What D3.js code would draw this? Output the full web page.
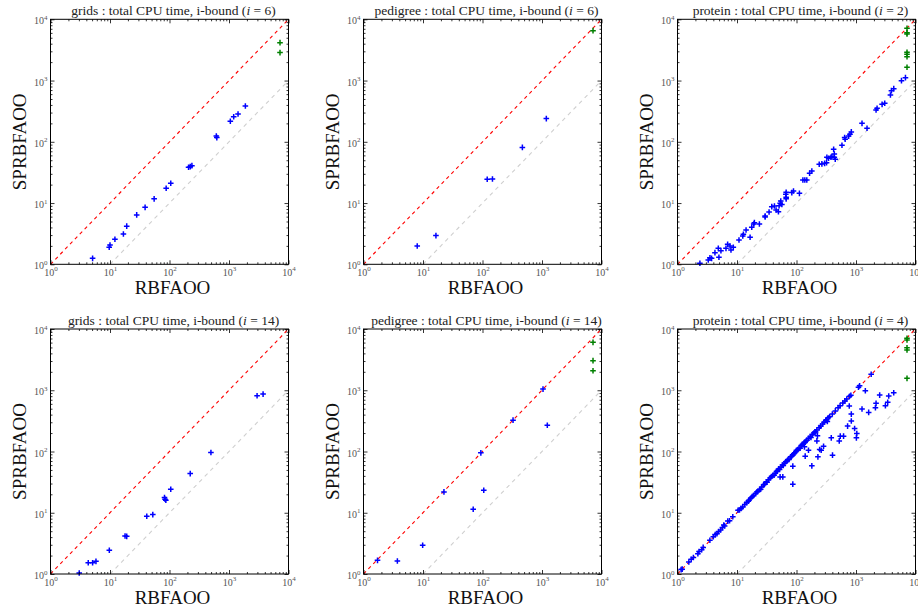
<!DOCTYPE html>
<html><head><meta charset="utf-8">
<script src="https://cdn.jsdelivr.net/npm/d3@7"></script>
<style>body{margin:0;background:#fff}svg{display:block}</style>
</head><body>
<svg id="chart" width="918" height="610"></svg>
<script>
// ---------- data ----------
const majorTicks = [1, 10, 100, 1000, 10000];
const tickExponents = ["0", "1", "2", "3", "4"];
const minorTicks = [2,3,4,5,6,7,8,9,20,30,40,50,60,70,80,90,200,300,400,500,600,700,800,900,2000,3000,4000,5000,6000,7000,8000,9000];
const xAxisLabel = "RBFAOO";
const yAxisLabel = "SPRBFAOO";
const panelDomains = ["grids", "pedigree", "protein", "grids", "pedigree", "protein"];
const panelIBounds = ["6", "6", "2", "14", "14", "4"];

const gridsI6 = [[5.1,1.25],[9.7,1.9],[10,2.07],[12.1,2.56],[16.8,3.13],[19.1,4.2],[28.1,6.4],[38.9,8.5],[55.2,11.7],[87.9,17.4],[105,21],[209,38.4],[223,39.3],[238,40.8],[612,124],[624,117],[1053,216],[1199,257],[1419,285],[1884,385]];
const gridsI6Timeout = [[7200,4160],[7200,2860]];

const pedigreeI6 = [[8.0,1.99],[16.5,2.94],[120,24.4],[147,24.7],[468,81],[1182,239]];
const pedigreeI6Timeout = [[7200,6530]];

const proteinI2 = [[2.38,1.04],[3.29,1.18],[3.51,1.28],[3.74,1.25],[4.26,1.55],[4.85,1.82],[4.97,1.30],[5.37,1.67],[6.53,1.82],[6.96,2.12],[7.62,1.99],[7.92,1.71],[8.67,1.89],[10.8,2.5],[12.5,2.9],[12.8,3.09],[14.2,3.64],[16.6,2.76],[17.7,4.02],[19.1,4.55],[19.6,4.79],[23.8,4.55],[29.7,5.93],[29.7,6.16],[34.6,7.15],[38.4,8.74],[42.6,8.96],[45.4,7.71],[49.7,7.24],[51,9.06],[53.1,9.9],[54.4,10.8],[56.8,9.5],[66.1,13.9],[67,15],[67,11.7],[67,12.4],[83.4,14.8],[89,15.7],[112,14.4],[128,23.8],[138,23.8],[149,23.8],[166,30.6],[181,33.4],[241,43],[267,43.6],[297,44.5],[320,45.6],[324,55.8],[346,53.8],[379,55.8],[394,57.3],[421,75.4],[432,63.3],[432,55.8],[448,51.8],[581,87.7],[644,117],[657,110],[752,124],[792,133],[834,145],[1262,200],[1532,166],[2173,331],[2260,352],[2744,409],[3040,425],[3790,582],[3940,684],[4310,738],[5810,997],[6780,1116]];
const proteinI2Timeout = [[7200,7130],[7200,6040],[7200,5750],[7200,2890],[7200,2685],[7200,2450],[7200,1645]];

const gridsI14 = [[3.04,1.04],[4.31,1.53],[5.1,1.53],[5.81,1.61],[9.74,2.44],[17.9,4.18],[19.1,4.12],[41.5,8.77],[52.4,9.33],[82.4,17.7],[84.2,16.6],[86.8,16],[105,24.2],[223,43.6],[497,96.3],[2965,813],[3740,865]];
const gridsI14Timeout = [];

const pedigreeI14 = [[1.72,1.67],[3.71,1.63],[9.87,2.94],[22.5,21.9],[69.8,11.4],[105,23.3],[93.8,95.1],[326,325],[1040,1045],[1228,269]];
const pedigreeI14Timeout = [[7200,6050],[7200,3040],[7200,2080]];

const proteinI4 = [[1.15,1.18],[1.2,1.2],[1.55,1.57],[1.7,1.74],[1.85,1.86],[2.2,2.15],[2.3,2.32],[2.55,2.5],[2.7,2.72],[3.5,3.55],[4.0,4.05],[4.3,4.4],[4.6,4.55],[4.9,4.95],[5.3,5.25],[5.7,5.75],[6.0,6.3],[6.2,6.1],[7.0,7.3],[7.5,7.4],[8.5,8.6],[10.4,11],[11.0,11.1],[11.7,11.8],[12.5,12.4],[13.5,13.7],[14.5,14.6],[15.5,15.4],[16,16.2],[17,17.2],[18,18.3],[19,19.2],[20.5,20.4],[21.5,21.8],[22.5,22.6],[24,23.8],[25,24.2],[26,26.3],[28,28.5],[29,29.2],[31,32],[32,31.5],[34,34.5],[36,37],[38,39],[40,40.5],[42,41],[44,44],[46,47],[48,49],[50,52],[52,51],[55,56],[58,60],[60,59],[63,64],[66,68],[70,71],[72,74],[75,74],[80,82],[83,84],[86,88],[90,92],[94,95],[98,100],[100,105],[105,108],[110,112],[115,113],[120,125],[125,130],[130,131],[135,140],[140,143],[145,148],[150,152],[160,165],[170,175],[175,170],[185,190],[195,200],[205,210],[210,208],[220,225],[240,245],[255,260],[275,280],[290,300],[310,320],[320,330],[340,355],[360,370],[330,310],[400,410],[450,460],[500,520],[540,560],[600,620],[650,670],[700,720],[780,800],[820,830],[1100,1120],[1150,1180],[1800,1820],[136,119],
 [771,552],[834,408],[834,314],[722,260],[948,238],[1032,197],[1015,167],[384,167],[544,178],[618,178],[523,149],[285,122],[260,105],[245,108],[229,81.8],[403,87.2],[140,84],[181,58.3],[220,149],[225,180],[159,105],[86.7,57.6],[58.9,38.5],[53,38.5],[86.7,29.3],[1435,981],[2500,834],[3548,804],[4305,910],[3412,634],[3119,557],[2173,611],[2120,517],[1633,435],[1262,493]];
const proteinI4Timeout = [[7200,7050],[7200,6610],[7200,4950],[7200,4540],[7200,1565]];

const solvedSeries = [gridsI6, pedigreeI6, proteinI2, gridsI14, pedigreeI14, proteinI4];
const timeoutSeries = [gridsI6Timeout, pedigreeI6Timeout, proteinI2Timeout, gridsI14Timeout, pedigreeI14Timeout, proteinI4Timeout];

// ---------- layout ----------
const colX = [50.5, 363.5, 677.5];
const rowY = [19.3, 329];
const W = 238, H = 245;
const serif = "'Liberation Serif','DejaVu Serif',serif";

const svg = d3.select("#chart");
svg.append("rect").attr("width", 918).attr("height", 610).attr("fill", "#fff");

const plusPath = "M-2.8,0H2.8M0,-2.8V2.8";

for (let p = 0; p < 6; p++) {
  const x0 = colX[p % 3], y0 = rowY[Math.floor(p / 3)];
  const x = d3.scaleLog().domain([1, 1e4]).range([x0, x0 + W]);
  const y = d3.scaleLog().domain([1, 1e4]).range([y0 + H, y0]);
  const g = svg.append("g");

  // reference lines
  g.append("line").attr("x1", x(1)).attr("y1", y(1)).attr("x2", x(1e4)).attr("y2", y(1e4))
    .attr("stroke", "#ff0000").attr("stroke-width", 1.1).attr("stroke-dasharray", "3.5,3.5");
  g.append("line").attr("x1", x(10)).attr("y1", y(1)).attr("x2", x(1e4)).attr("y2", y(1e3))
    .attr("stroke", "#cfcfcf").attr("stroke-width", 1.1).attr("stroke-dasharray", "4,4");

  // points
  g.selectAll("path.solved").data(solvedSeries[p]).join("path").attr("class", "solved")
    .attr("d", plusPath).attr("transform", d => `translate(${x(d[0])},${y(d[1])})`)
    .attr("stroke", "#0000ff").attr("stroke-width", 1.5).attr("fill", "none");
  g.selectAll("path.timeout").data(timeoutSeries[p]).join("path").attr("class", "timeout")
    .attr("d", plusPath).attr("transform", d => `translate(${x(d[0])},${y(d[1])})`)
    .attr("stroke", "#008000").attr("stroke-width", 1.5).attr("fill", "none");

  // axes (ticks inside on all four sides)
  const fmt = () => "";
  const mk = (axis, scale, vals, size, tx, ty, labels) => {
    const a = axis(scale).tickValues(vals).tickSize(-size).tickPadding(3).tickFormat(labels ? (d => d) : fmt);
    const ag = g.append("g").attr("transform", `translate(${tx},${ty})`).call(a);
    ag.select(".domain").remove();
    ag.selectAll("line").attr("stroke", "#000").attr("stroke-width", 0.8);
    return ag;
  };
  const bx = mk(d3.axisBottom, x, majorTicks, 4, 0, y0 + H, true);
  mk(d3.axisBottom, x, minorTicks, 2, 0, y0 + H, false);
  mk(d3.axisTop, x, majorTicks, 4, 0, y0, false);
  mk(d3.axisTop, x, minorTicks, 2, 0, y0, false);
  const ly = mk(d3.axisLeft, y, majorTicks, 4, x0, 0, true);
  mk(d3.axisLeft, y, minorTicks, 2, x0, 0, false);
  mk(d3.axisRight, y, majorTicks, 4, x0 + W, 0, false);
  mk(d3.axisRight, y, minorTicks, 2, x0 + W, 0, false);

  [bx, ly].forEach(ag => {
    ag.selectAll("text").each(function(d) {
      const t = d3.select(this);
      t.text(null).attr("font-family", serif).attr("font-size", 10).attr("fill", "#555");
      t.append("tspan").text("10");
      t.append("tspan").attr("font-size", 7).attr("dy", -4.5).text(tickExponents[majorTicks.indexOf(d)]);
    });
  });
  bx.selectAll("text").attr("dy", "0.85em");
  ly.selectAll("text").attr("dy", "0.45em");

  // frame
  g.append("rect").attr("x", x0).attr("y", y0).attr("width", W).attr("height", H)
    .attr("fill", "none").attr("stroke", "#000").attr("stroke-width", 1);

  // title
  const t = g.append("text").attr("x", x0 + W / 2 + 4).attr("y", y0 - 4.5)
    .attr("text-anchor", "middle").attr("font-family", serif).attr("font-size", 13.5).attr("fill", "#222");
  t.append("tspan").text(`${panelDomains[p]} : total CPU time, i-bound (`);
  t.append("tspan").attr("font-style", "italic").text("i");
  t.append("tspan").text(` = ${panelIBounds[p]})`);

  // axis labels
  g.append("text").attr("x", x0 + W / 2 + 3).attr("y", y0 + H + 30)
    .attr("text-anchor", "middle").attr("font-family", serif).attr("font-size", 19).attr("fill", "#111")
    .text(xAxisLabel);
  g.append("text").attr("transform", `translate(${x0 - 25},${y0 + H / 2}) rotate(-90)`)
    .attr("text-anchor", "middle").attr("font-family", serif).attr("font-size", 19).attr("fill", "#111")
    .text(yAxisLabel);
}
</script>
</body></html>
